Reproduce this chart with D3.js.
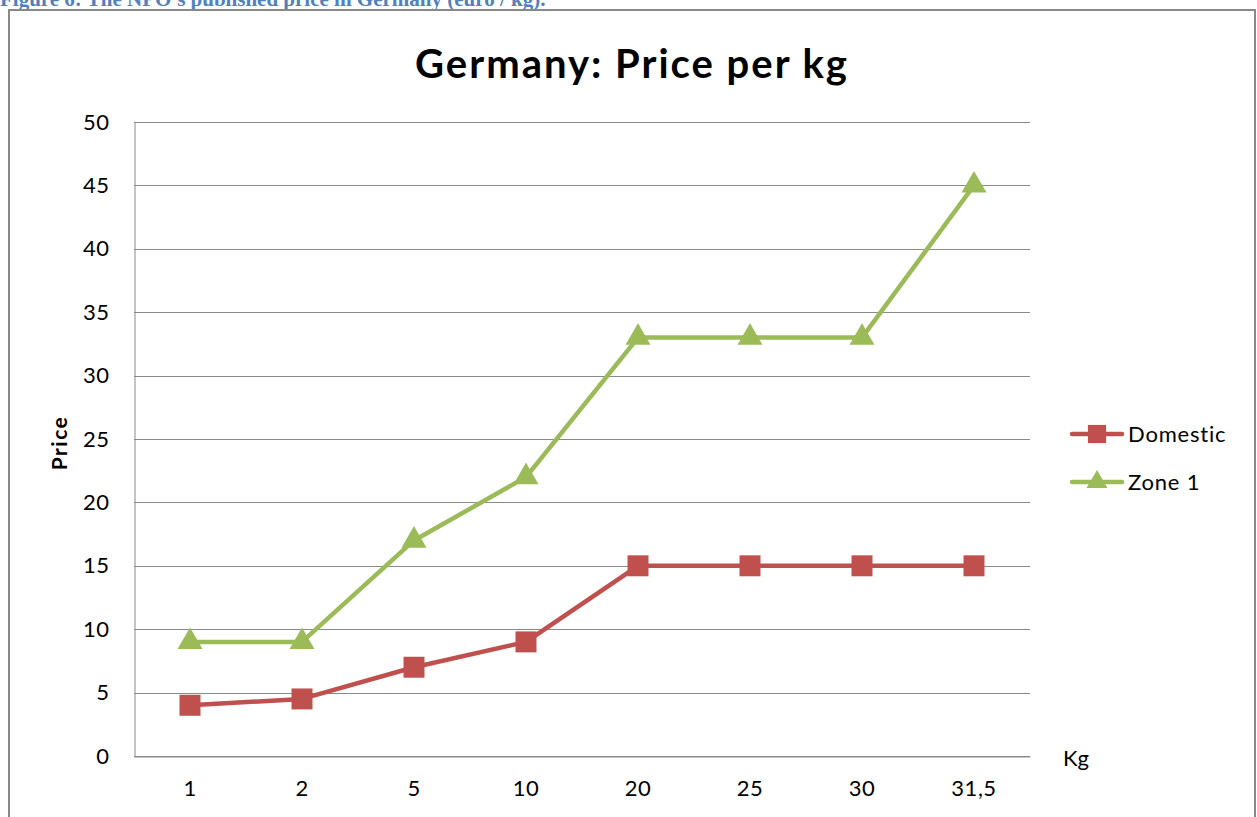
<!DOCTYPE html>
<html>
<head>
<meta charset="utf-8">
<script src="https://cdn.jsdelivr.net/npm/d3@7"></script>
<style>
  body { margin: 0; background: #fff; }
  svg { display: block; }
</style>
</head>
<body>
<div class="chart"></div>
<script>
let categories = ['1', '2', '5', '10', '20', '25', '30', '31,5']
let domestic = [4, 4.5, 7, 9, 15, 15, 15, 15]
let zone1 = [9, 9, 17, 22, 33, 33, 33, 45]
let yTicks = [0, 5, 10, 15, 20, 25, 30, 35, 40, 45, 50]

let width = 1257,
    height = 817

let plot = { left: 134, right: 1030, top: 122, bottom: 756 }

let font = 'Lato, "Open Sans", sans-serif'

let svg = d3.select('.chart').append('svg')
    .attr('width', width)
    .attr('height', height)

// caption above the frame (cut off at top in the original)
svg.append('text')
    .attr('x', 0)
    .attr('y', 6)
    .attr('font-family', '"Liberation Serif", "Times New Roman", serif')
    .attr('font-weight', 'bold')
    .attr('font-size', 21)
    .attr('fill', '#4F81BD')
    .text("Figure 6: The NPO's published price in Germany (euro / kg).")

// chart frame
svg.append('rect')
    .attr('x', 9)
    .attr('y', 10)
    .attr('width', 1246)
    .attr('height', 830)
    .attr('fill', 'none')
    .attr('stroke', '#898989')
    .attr('stroke-width', 2)

svg.append('text')
    .attr('x', 632)
    .attr('y', 78)
    .attr('text-anchor', 'middle')
    .attr('font-family', font)
    .attr('font-weight', 'bold')
    .attr('font-size', 40)
    .attr('letter-spacing', 2)
    .attr('fill', '#000')
    .text('Germany: Price per kg')

let x = d3.scaleBand().domain(categories).range([plot.left, plot.right]).padding(0)
let y = d3.scaleLinear().domain([0, 50]).range([plot.bottom, plot.top])

// gridlines
svg.append('g')
    .selectAll('line')
    .data(yTicks)
    .join('line')
    .attr('x1', plot.left)
    .attr('x2', plot.right)
    .attr('y1', d => Math.round(y(d)) + 0.5)
    .attr('y2', d => Math.round(y(d)) + 0.5)
    .attr('stroke', '#8a8a8a')
    .attr('stroke-width', 1)

// y axis
let yAxis = svg.append('g')
    .attr('transform', 'translate(' + (plot.left + 0.5) + ',0)')
    .call(d3.axisLeft(y).tickValues(yTicks).tickSize(0).tickPadding(25))
yAxis.select('.domain').attr('stroke', '#8a8a8a')
yAxis.selectAll('text')
    .attr('font-family', font)
    .attr('font-size', 22)
    .attr('letter-spacing', 0.5)
    .attr('fill', '#000')

// x axis
let xAxis = svg.append('g')
    .attr('transform', 'translate(0,' + (plot.bottom + 0.5) + ')')
    .call(d3.axisBottom(x).tickSize(0).tickPadding(24))
xAxis.select('.domain').attr('stroke', '#8a8a8a')
xAxis.selectAll('text')
    .attr('font-family', font)
    .attr('font-size', 22)
    .attr('letter-spacing', 0.5)
    .attr('fill', '#000')

svg.append('text')
    .attr('transform', 'translate(67,443) rotate(-90)')
    .attr('text-anchor', 'middle')
    .attr('font-family', font)
    .attr('font-weight', 'bold')
    .attr('font-size', 21)
    .attr('letter-spacing', 1.5)
    .text('Price')

svg.append('text')
    .attr('x', 1063)
    .attr('y', 766)
    .attr('font-family', font)
    .attr('font-size', 22)
    .text('Kg')

let line = d3.line()
    .x((d, i) => x(categories[i]) + x.bandwidth() / 2)
    .y(d => y(d))

let series = [
    { name: 'Domestic', values: domestic, color: '#C0504D', symbol: d3.symbolSquare, size: 440 },
    { name: 'Zone 1', values: zone1, color: '#9BBB59', symbol: d3.symbolTriangle, size: 270 }
]

series.forEach(s => {
    svg.append('path')
        .datum(s.values)
        .attr('d', line)
        .attr('fill', 'none')
        .attr('stroke', s.color)
        .attr('stroke-width', 4.5)
        .attr('stroke-linejoin', 'round')

    svg.append('g')
        .selectAll('path')
        .data(s.values)
        .join('path')
        .attr('transform', (d, i) => 'translate(' + (x(categories[i]) + x.bandwidth() / 2) + ',' + y(d) + ')')
        .attr('d', d3.symbol().type(s.symbol).size(s.size))
        .attr('fill', s.color)
})

// legend
let legend = svg.append('g')
    .selectAll('g')
    .data(series)
    .join('g')
    .attr('transform', (d, i) => 'translate(1072,' + (434 + i * 48) + ')')

legend.append('line')
    .attr('x1', 0)
    .attr('x2', 50)
    .attr('stroke', d => d.color)
    .attr('stroke-width', 4.5)
    .attr('stroke-linecap', 'round')

legend.append('path')
    .attr('transform', 'translate(25,0)')
    .attr('d', d => d3.symbol().type(d.symbol).size(d.name === 'Domestic' ? 330 : 190)())
    .attr('fill', d => d.color)

legend.append('text')
    .attr('x', 56)
    .attr('y', 8)
    .attr('font-family', font)
    .attr('font-size', 22)
    .attr('letter-spacing', 0.8)
    .text(d => d.name)
</script>
</body>
</html>
